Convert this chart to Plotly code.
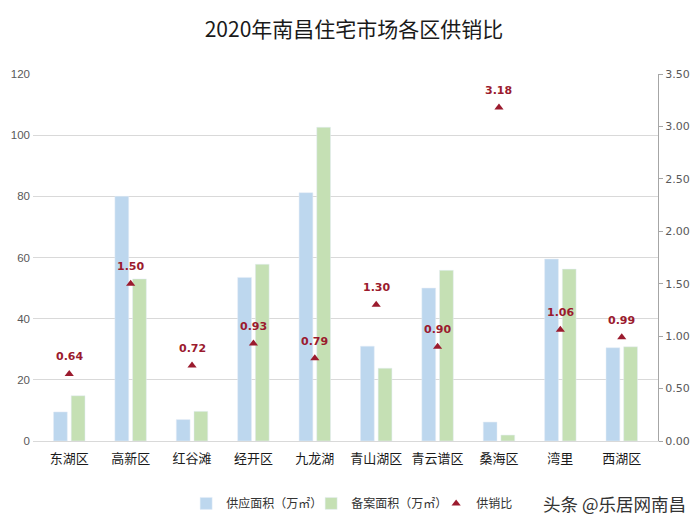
import plotly.graph_objects as go

districts = ['东湖区', '高新区', '红谷滩', '经开区', '九龙湖', '青山湖区', '青云谱区', '桑海区', '湾里', '西湖区']
supply = [9.5, 80.0, 7.0, 53.5, 81.2, 31.0, 50.0, 6.2, 59.5, 30.5]
filed = [14.8, 53.0, 9.7, 57.8, 102.6, 23.8, 55.8, 1.95, 56.2, 30.8]
ratio = [0.64, 1.50, 0.72, 0.93, 0.79, 1.30, 0.90, 3.18, 1.06, 0.99]

font_cn = 'Noto Sans CJK SC'
font_num = 'Verdana, DejaVu Sans'
red = '#9B1B2E'

fig = go.Figure()

fig.add_trace(go.Bar(
    x=districts, y=supply, name='供应面积（万㎡）',
    marker=dict(color='#BDD7EE'), offsetgroup='a'
))
fig.add_trace(go.Bar(
    x=districts, y=filed, name='备案面积（万㎡）',
    marker=dict(color='#C5E0B4'), offsetgroup='b'
))
fig.add_trace(go.Scatter(
    x=districts, y=ratio, name='供销比', yaxis='y2',
    mode='markers',
    marker=dict(symbol='triangle-up', size=8, color=red),
))

# 供销比数值标签
labels = []
for d, v in zip(districts, ratio):
    labels.append(dict(x=d, y=v, xref='x', yref='y2', text=f'{v:.2f}', showarrow=False,
                       yshift=17, font=dict(family=font_num, size=11, color=red, weight='bold')))

labels.append(dict(text='头条 @乐居网南昌', xref='paper', yref='paper', x=1.048, y=-0.170,
                   xanchor='right', yanchor='middle', showarrow=False,
                   font=dict(size=17.5, color='#333333', family=font_cn)))

# 页面 body 有 8px 边距，整体缩小 8px
fig.update_layout(
    width=692, height=522,
    margin=dict(l=25, r=42, t=66, b=85),
    paper_bgcolor='white', plot_bgcolor='white',
    font=dict(family=font_cn, color='#595959'),
    title=dict(text='2020年南昌住宅市场各区供销比', x=0.5, xanchor='center', y=0.958,
               yanchor='middle', font=dict(size=21, color='#1a1a1a', family=font_cn)),
    barmode='group', bargap=0.424, bargroupgap=0.22,
    xaxis=dict(tickfont=dict(size=13, color='#1a1a1a'), showgrid=False,
               showline=True, linecolor='#d9d9d9', ticks='', ticklabelstandoff=5),
    yaxis=dict(range=[0, 120], dtick=20, showgrid=True, gridcolor='#d9d9d9',
               tickfont=dict(size=11.5, color='#595959', family='Liberation Sans, Arial'),
               zeroline=False, ticks='', automargin=False, ticklabelstandoff=2),
    yaxis2=dict(range=[0, 3.5], dtick=0.5, tickformat='.2f', overlaying='y', side='right',
                showgrid=False, showline=True, linecolor='#a6a6a6', ticks='outside',
                ticklen=4, tickcolor='#a6a6a6', zeroline=False, automargin=False,
                tickfont=dict(size=11, color='#595959', family=font_num)),
    legend=dict(orientation='h', x=0.245, xanchor='left', y=-0.170, yanchor='middle',
                font=dict(size=12, color='#333333'), itemwidth=30, traceorder='normal',
                entrywidth=80, entrywidthmode='pixels'),
    annotations=labels,
)

fig.write_html('out.html')
